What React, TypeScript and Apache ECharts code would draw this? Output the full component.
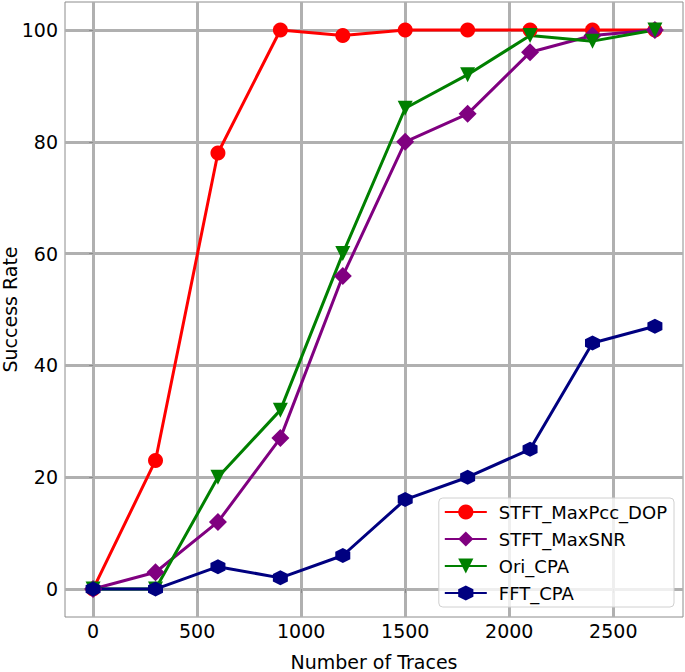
import React, { useEffect, useRef } from "react";
import * as echarts from "echarts";

const traces = [0, 300, 600, 900, 1200, 1500, 1800, 2100, 2400, 2700];
const maxPccDop = [0, 23, 78, 100, 99, 100, 100, 100, 100, 100];
const maxSnr = [0, 3, 12, 27, 56, 80, 85, 96, 99, 100];
const oriCpa = [0, 0, 20, 32, 60, 86, 92, 99, 98, 100];
const fftCpa = [0, 0, 4, 2, 6, 16, 20, 25, 44, 47];
const xTicks = [0, 500, 1000, 1500, 2000, 2500];
const yTicks = [0, 20, 40, 60, 80, 100];

const FONT = "DejaVu Sans";
const hexagon = "path://M0,-1L0.866,-0.5L0.866,0.5L0,1L-0.866,0.5L-0.866,-0.5Z";
const diamond = "path://M0,-1L1,0L0,1L-1,0Z";

export default function App() {
  const ref = useRef<HTMLDivElement>(null);
  useEffect(() => {
    const chart = echarts.init(ref.current!, null, { renderer: "svg" });
    const mk = (name: string, ys: number[], color: string, symbol: string, size: number, rotate = 0) => ({
      name,
      type: "line",
      data: traces.map((x, i) => [x, ys[i]]),
      symbol,
      symbolSize: size,
      symbolRotate: rotate,
      showAllSymbol: true,
      lineStyle: { color, width: 3 },
      itemStyle: { color },
      z: 3,
    });
    chart.setOption({
      animation: false,
      textStyle: { fontFamily: FONT },
      grid: {
        left: 65, top: 2, right: 2, bottom: 55, show: true,
        borderColor: "#8c8c8c", borderWidth: 1, backgroundColor: "#fff",
        outerBoundsMode: "none", containLabel: false,
      },
      legend: {
        orient: "vertical",
        right: 11,
        bottom: 65,
        itemWidth: 42,
        itemHeight: 19,
        itemGap: 9,
        padding: [5, 7, 5, 5],
        borderColor: "#d0d0d0",
        borderWidth: 1,
        borderRadius: 4,
        backgroundColor: "rgba(255,255,255,0.8)",
        textStyle: { fontFamily: FONT, fontSize: 18, color: "#000", padding: [0, 0, 0, 7] },
        data: ["STFT_MaxPcc_DOP", "STFT_MaxSNR", "Ori_CPA", "FFT_CPA"],
      },
      xAxis: {
        type: "value",
        min: -135,
        max: 2835,
        name: "Number of Traces",
        nameLocation: "middle",
        nameGap: 35,
        nameMoveOverlap: false,
        nameTextStyle: { fontFamily: FONT, fontSize: 19, color: "#000" },
        axisLine: { show: false },
        axisTick: { show: true, customValues: xTicks, length: 4, lineStyle: { color: "#8c8c8c" } },
        axisLabel: { customValues: xTicks, formatter: (v: number) => String(v), fontFamily: FONT, fontSize: 19, color: "#000", margin: 4 },
        splitLine: { show: true, lineStyle: { color: "#b0b0b0", width: 3 } },
      },
      yAxis: {
        type: "value",
        min: -5,
        max: 105,
        name: "Success Rate",
        nameLocation: "middle",
        nameGap: 46,
        nameMoveOverlap: false,
        nameTextStyle: { fontFamily: FONT, fontSize: 19, color: "#000" },
        axisLine: { show: false },
        axisTick: { show: true, customValues: yTicks, length: 4, lineStyle: { color: "#8c8c8c" } },
        axisLabel: { customValues: yTicks, formatter: (v: number) => String(v), fontFamily: FONT, fontSize: 19, color: "#000", margin: 7 },
        splitLine: { show: true, lineStyle: { color: "#b0b0b0", width: 3 } },
      },
      series: [
        mk("STFT_MaxPcc_DOP", maxPccDop, "#ff0000", "circle", 15),
        mk("STFT_MaxSNR", maxSnr, "#800080", diamond, 18),
        mk("Ori_CPA", oriCpa, "#008000", "triangle", 15, 180),
        mk("FFT_CPA", fftCpa, "#000080", hexagon, 15),
      ],
    });
    return () => chart.dispose();
  }, []);
  return <div ref={ref} style={{ width: 685, height: 672, position: "absolute", left: 0, top: 0 }} />;
}
